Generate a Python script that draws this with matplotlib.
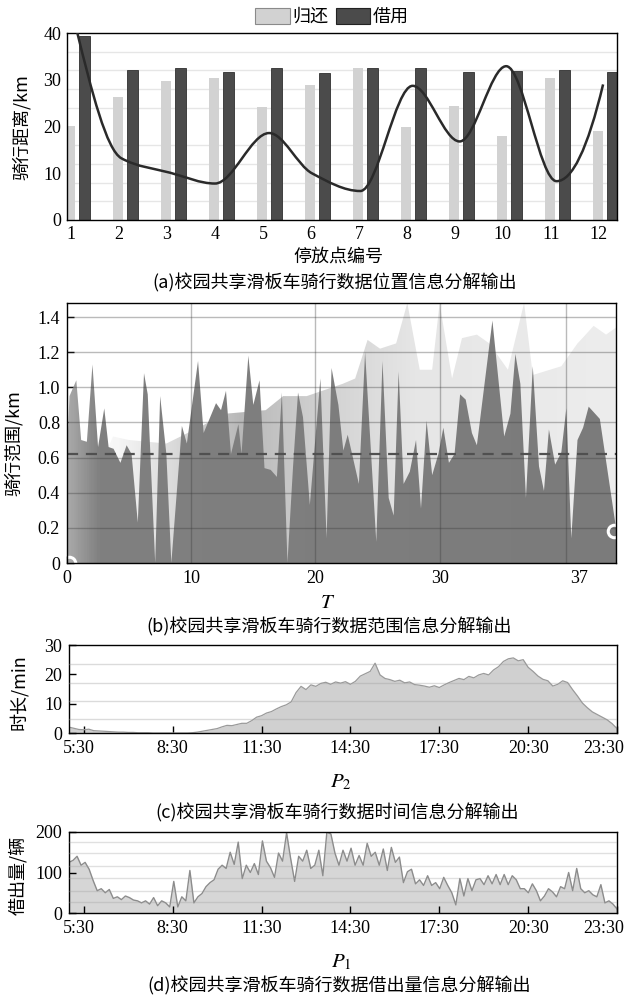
import matplotlib
matplotlib.use("Agg")
import matplotlib.pyplot as plt
import matplotlib.patches as pat
import matplotlib.transforms as mtrans
from matplotlib.path import Path
from matplotlib.colors import LinearSegmentedColormap
import numpy as np

plt.rcParams['font.family'] = ['Liberation Serif', 'DejaVu Serif']
plt.rcParams['mathtext.fontset'] = 'stix'
cjk = ['Noto Sans CJK SC', 'DejaVu Sans']

# (a) position info
stations = list(range(1, 13))
returned = [20.1, 26.4, 29.8, 30.3, 24.1, 28.8, 32.5, 19.8, 24.4, 18.0, 30.4, 19.1]
borrowed = [39.4, 32.0, 32.6, 31.6, 32.6, 31.5, 32.6, 32.6, 31.6, 31.9, 32.1, 31.6]
curve_x = [1.12, 2.05, 3.07, 4.0, 5.13, 6.02, 7.03, 8.12, 9.1, 10.07, 11.12, 12.09]
curve_y = [40.5, 13.2, 10.1, 7.8, 18.6, 10.0, 6.2, 28.7, 16.8, 32.9, 8.3, 29.0]

# (b) range info
b_t = [0, 0.2, 0.75, 1.14, 1.6, 2.05, 2.5, 3.0, 3.35, 3.75, 4.3, 4.8, 5.2, 5.7, 6.2, 6.5,
       7.1, 7.5, 8.0, 8.4, 9.25, 9.65, 10.55, 11.0, 12.0, 12.4, 12.8, 13.2, 13.8, 14.05,
       14.6, 15.0, 15.5, 15.9, 16.4, 16.9, 17.3, 17.75, 18.2, 18.6, 19.0, 19.55, 20.4,
       20.9, 21.3, 21.85, 22.25, 22.6, 23.5, 24.0, 24.9, 25.4, 25.9, 26.3, 26.7, 27.1,
       27.6, 28.1, 28.5, 28.95, 29.4, 29.9, 30.3, 30.75, 31.2, 31.65, 32.1, 32.6, 33.0,
       34.25, 35.2, 35.7, 36.1, 36.5, 36.95, 37.5, 38.0, 38.4, 38.8, 39.3, 39.8, 40.2,
       40.6, 41.1, 41.55, 42.0, 42.9, 44.2]
b_v = [0.62, 0.95, 1.04, 0.70, 0.69, 1.13, 0.66, 0.88, 0.66, 0.65, 0.57, 0.67, 0.62, 0.23,
       1.08, 0.96, 0.0, 0.95, 0.62, 0.0, 0.78, 0.68, 1.15, 0.74, 0.91, 0.87, 0.98, 0.62,
       0.79, 0.62, 1.18, 0.90, 1.04, 0.54, 0.53, 0.49, 0.97, 0.0, 0.55, 0.97, 0.83, 0.33,
       1.05, 0.14, 1.11, 0.90, 0.64, 0.73, 0.45, 1.20, 0.12, 1.15, 0.37, 0.27, 1.09, 0.45,
       0.52, 0.70, 0.31, 0.81, 0.50, 0.62, 0.77, 0.57, 0.62, 0.96, 0.93, 0.74, 0.67, 1.38,
       0.72, 0.85, 1.19, 1.02, 0.37, 1.12, 0.55, 0.41, 0.76, 0.56, 0.63, 0.88, 0.14, 0.70,
       0.77, 0.89, 0.82, 0.20]
env_t = [0, 3.0, 3.7, 5.0, 8.0, 10.0, 12.8, 16.0, 17.4, 19.3, 22.2, 23.2, 24.2, 25.2, 26.5,
         27.4, 28.4, 29.4, 30.0, 31.0, 31.8, 33.0, 34.0, 35.5, 36.8, 37.5, 39.8, 41.1,
         41.5, 42.4, 43.4, 44.2]
env_v = [0.55, 0.6, 0.72, 0.7, 0.68, 0.75, 0.85, 0.87, 0.95, 0.95, 1.02, 1.05, 1.27, 1.22,
         1.25, 1.48, 1.1, 1.1, 1.48, 1.05, 1.28, 1.3, 1.25, 1.1, 1.48, 1.07, 1.12, 1.25,
         1.28, 1.35, 1.3, 1.34]
b_mean = 0.62
b_ticks = [0, 10, 20, 30, 41.2]
b_ticklabels = ['0', '10', '20', '30', '37']
b_vlines = [10, 20, 30, 40.2]
ring_t = [0.15, 44.0]
ring_v = [0.0, 0.18]

# (c) time info, 10 min samples 5:00-23:30
c_vals = [2.0, 1.6, 1.2, 1.1, 1.3, 0.8,
          0.7, 0.6, 0.5, 0.4, 0.3, 0.3,
          0.2, 0.2, 0.1, 0.1, 0.1, 0.0,
          0.0, 0.0, 0.0, 0.0, 0.0, 0.0,
          0.0, 0.1, 0.3, 0.6, 0.9, 1.2,
          1.5, 2.1, 2.6, 2.5, 2.9, 3.3,
          3.3, 4.2, 5.4, 5.9, 6.8, 7.3,
          8.2, 9.0, 9.6, 10.6, 13.8, 15.9,
          14.8, 16.4, 15.9, 16.9, 17.3, 16.6,
          17.4, 17.0, 17.5, 16.6, 17.6, 19.4,
          20.2, 21.0, 23.8, 19.8, 18.6, 18.2,
          17.6, 18.0, 17.1, 17.4, 16.5, 16.3,
          16.0, 15.6, 16.1, 15.5, 16.4, 17.2,
          17.9, 18.6, 18.2, 19.3, 18.8, 19.8,
          20.3, 19.8, 21.5, 22.6, 24.4, 25.3,
          25.6, 24.6, 25.0, 22.4, 21.0, 19.4,
          18.3, 17.8, 16.0, 16.6, 17.8, 17.2,
          14.8, 12.6, 10.2, 8.6, 7.2, 6.3,
          5.4, 4.5, 3.2, 1.5]
c_grid = [4.7, 11, 17.1, 23.4]

# (d) borrow count
d_vals = [125, 130, 140, 118, 125, 108, 80, 55, 60, 50, 58, 36, 40, 33, 42, 38, 32, 30,
          25, 30, 22, 38, 18, 30, 25, 15, 78, 15, 40, 30, 105, 25, 40, 48, 65, 75, 82,
          108, 118, 110, 150, 120, 175, 85, 118, 100, 122, 95, 178, 128, 112, 88, 148,
          128, 198, 135, 78, 140, 128, 155, 110, 118, 155, 92, 200, 195, 148, 118, 155,
          128, 160, 118, 142, 118, 172, 140, 150, 118, 158, 105, 162, 125, 138, 75, 102,
          108, 72, 82, 68, 92, 68, 75, 60, 88, 68, 50, 20, 85, 42, 85, 55, 82, 85, 70,
          92, 72, 95, 70, 95, 70, 92, 82, 60, 60, 50, 72, 55, 30, 42, 60, 52, 40, 65,
          60, 100, 55, 110, 60, 50, 55, 45, 40, 70, 25, 30, 22, 10]
d_grid = [26, 55, 86, 116, 147, 175]

time_ticks = [5.5, 8.5, 11.5, 14.5, 17.5, 20.5, 23.5]
time_labels = ['5:30', '8:30', '11:30', '14:30', '17:30', '20:30', '23:30']

W, H = 633, 1001
def fx(px):
    return px / W
def fy(py):
    return 1 - py / H
def box(l, t, r, b):
    return [fx(l), fy(b), (r - l) / W, (b - t) / H]

def pchip_slopes(x, y):
    x = np.asarray(x, float); y = np.asarray(y, float)
    h = np.diff(x); d = np.diff(y) / h
    m = np.zeros_like(y)
    for k in range(1, len(x) - 1):
        if d[k-1] * d[k] > 0:
            w1 = 2*h[k] + h[k-1]; w2 = h[k] + 2*h[k-1]
            m[k] = (w1 + w2) / (w1/d[k-1] + w2/d[k])
    def end(h0, h1, d0, d1):
        s = ((2*h0 + h1)*d0 - h0*d1) / (h0 + h1)
        if np.sign(s) != np.sign(d0):
            s = 0
        elif np.sign(d0) != np.sign(d1) and abs(s) > abs(3*d0):
            s = 3*d0
        return s
    m[0] = end(h[0], h[1], d[0], d[1])
    m[-1] = end(h[-1], h[-2], d[-1], d[-2])
    return m

def gradient_fill(ax, t, v, stops, xmax, ymax, z):
    verts = np.column_stack([np.r_[t[0], t, t[-1]], np.r_[0, v, 0]])
    poly = pat.Polygon(verts, closed=True, fc='none', ec='none', transform=ax.transData)
    ax.add_patch(poly)
    cmap = LinearSegmentedColormap.from_list('g', [(p / xmax, c) for p, c in stops])
    grad = np.linspace(0, 1, 600)[None, :]
    im = ax.imshow(grad, extent=[0, xmax, 0, ymax], aspect='auto', cmap=cmap,
                   origin='lower', zorder=z, interpolation='bilinear')
    im.set_clip_path(poly)

def nudge_edge_labels(ax, fig, left_px, right_px):
    labs = ax.get_xticklabels()
    for lab, dx in ((labs[0], left_px), (labs[-1], right_px)):
        lab.set_transform(lab.get_transform() +
                          mtrans.ScaledTranslation(dx / fig.dpi, 0, fig.dpi_scale_trans))

fig = plt.figure(figsize=(6.33, 10.01), dpi=100)
tick_fs = 13
lab_fs = 13

# ---------- (a)
ax = fig.add_axes(box(67, 33, 617, 220))
xs = np.array(stations)
ax.bar(xs - 0.02, returned, width=0.21, color='#d2d2d2', zorder=2)
ax.bar(xs + 0.28, borrowed, width=0.22, color='#4b4b4b', ec='#303030', lw=0.6, zorder=2)
m = pchip_slopes(curve_x, curve_y)
verts = [(curve_x[0], curve_y[0])]
codes = [Path.MOVETO]
for i in range(len(curve_x) - 1):
    h = curve_x[i+1] - curve_x[i]
    verts += [(curve_x[i] + h/3, curve_y[i] + m[i]*h/3),
              (curve_x[i+1] - h/3, curve_y[i+1] - m[i+1]*h/3),
              (curve_x[i+1], curve_y[i+1])]
    codes += [Path.CURVE4] * 3
ax.add_patch(pat.PathPatch(Path(verts, codes), fill=False, ec='#2a2a2a', lw=1.8, zorder=3))
ax.set_xlim(0.916, 12.38)
ax.set_ylim(0, 40)
ax.set_xticks(stations)
ax.set_yticks([0, 10, 20, 30, 40])
ax.set_yticks(np.arange(4, 40, 4), minor=True)
ax.grid(which='minor', axis='y', color='#e6e6e6', lw=1.0, zorder=0)
ax.tick_params(which='both', length=0, labelsize=tick_fs, pad=4)
for s in ax.spines.values():
    s.set_linewidth(1.0)
fig.legend(handles=[pat.Patch(fc='#d2d2d2', ec='#8a8a8a', lw=0.8, label='归还'),
                    pat.Patch(fc='#4b4b4b', ec='#222222', lw=0.8, label='借用')],
           loc='center', bbox_to_anchor=(fx(332), fy(17)), ncol=2, frameon=False,
           prop={'family': cjk, 'size': lab_fs}, handlelength=1.9, handleheight=1.0,
           handletextpad=0.15, columnspacing=0.4, borderpad=0)
fig.text(fx(22), fy(127), '骑行距离/km', rotation=90, ha='center', va='center',
         family=cjk, fontsize=lab_fs)
fig.text(fx(338), fy(257), '停放点编号', ha='center', va='center', family=cjk, fontsize=lab_fs)
fig.text(fx(335), fy(283), '(a)校园共享滑板车骑行数据位置信息分解输出', ha='center',
         va='center', family=cjk, fontsize=lab_fs)

# ---------- (b)
ax = fig.add_axes(box(67, 303, 616, 563))
xmax, ymax = 44.2, 1.48
gradient_fill(ax, env_t, env_v, [(0, '#ffffff'), (4, '#f6f6f6'), (14, '#b8b8b8'),
                                 (20, '#cfcfcf'), (28, '#e6e6e6'), (44.2, '#ededed')],
              xmax, ymax, 1)
gradient_fill(ax, b_t, b_v, [(0, '#a9a9a9'), (2.5, '#808080'), (44.2, '#7b7b7b')],
              xmax, ymax, 2)
for yv in np.arange(0.2, 1.41, 0.2):
    ax.axhline(yv, color='#3a3a3a', alpha=0.35, lw=1.0, zorder=3)
for xv in b_vlines:
    ax.axvline(xv, color='#3a3a3a', alpha=0.35, lw=1.0, zorder=3)
ax.axhline(b_mean, color='#505050', lw=1.6, ls=(0, (5, 3.5)), zorder=4)
ax.plot(ring_t, ring_v, 'o', mfc='none', mec='white', ms=9, mew=2.2, zorder=5, clip_on=True)
ax.set_xlim(0, xmax)
ax.set_ylim(0, ymax)
ax.set_xticks(b_ticks)
ax.set_xticklabels(b_ticklabels)
ax.set_yticks([0, 0.2, 0.4, 0.6, 0.8, 1.0, 1.2, 1.4])
ax.set_yticklabels(['0', '0.2', '0.4', '0.6', '0.8', '1.0', '1.2', '1.4'])
ax.tick_params(direction='in', length=5, width=1, labelsize=tick_fs, pad=5)
for s in ax.spines.values():
    s.set_linewidth(1.0)
    s.set_zorder(6)
fig.text(fx(14), fy(443), '骑行范围/km', rotation=90, ha='center', va='center',
         family=cjk, fontsize=lab_fs)
fig.text(fx(328), fy(603), '$T$', ha='center', va='center', fontsize=15)
fig.text(fx(329), fy(627), '(b)校园共享滑板车骑行数据范围信息分解输出', ha='center',
         va='center', family=cjk, fontsize=lab_fs)

# ---------- (c)
ax = fig.add_axes(box(69, 645, 617, 733))
ct = np.linspace(5.0, 23.5, len(c_vals))
ax.fill_between(ct, 0, c_vals, color='#d0d0d0', zorder=1, lw=0)
ax.plot(ct, c_vals, color='#9a9a9a', lw=0.9, zorder=2)
for yv in c_grid:
    ax.axhline(yv, color='#9a9a9a', alpha=0.35, lw=1.0, zorder=3)
ax.set_xlim(5.0, 23.5)
ax.set_ylim(0, 30)
ax.set_xticks(time_ticks)
ax.set_xticklabels(time_labels)
ax.set_yticks([0, 10, 20, 30])
ax.tick_params(direction='in', length=5, width=1, labelsize=tick_fs, pad=5)
nudge_edge_labels(ax, fig, -5, -13)
for s in ax.spines.values():
    s.set_linewidth(1.0)
fig.text(fx(19), fy(692), '时长/min', rotation=90, ha='center', va='center',
         family=cjk, fontsize=lab_fs)
fig.text(fx(341), fy(782), '$P_2$', ha='center', va='center', fontsize=15)
fig.text(fx(337), fy(813), '(c)校园共享滑板车骑行数据时间信息分解输出', ha='center',
         va='center', family=cjk, fontsize=lab_fs)

# ---------- (d)
ax = fig.add_axes(box(69, 832, 617, 913))
dt = np.linspace(5.0, 23.5, len(d_vals))
ax.fill_between(dt, 0, d_vals, color='#d6d6d6', zorder=1, lw=0)
ax.plot(dt, d_vals, color='#8c8c8c', lw=1.0, zorder=2)
for yv in d_grid:
    ax.axhline(yv, color='#9a9a9a', alpha=0.3, lw=1.0, zorder=3)
ax.set_xlim(5.0, 23.5)
ax.set_ylim(0, 200)
ax.set_xticks(time_ticks)
ax.set_xticklabels(time_labels)
ax.set_yticks([0, 100, 200])
ax.tick_params(direction='in', length=5, width=1, labelsize=tick_fs, pad=5)
nudge_edge_labels(ax, fig, -5, -13)
for s in ax.spines.values():
    s.set_linewidth(1.0)
fig.text(fx(18), fy(875), '借出量/辆', rotation=90, ha='center', va='center',
         family=cjk, fontsize=lab_fs)
fig.text(fx(341), fy(962), '$P_1$', ha='center', va='center', fontsize=15)
fig.text(fx(339), fy(986), '(d)校园共享滑板车骑行数据借出量信息分解输出', ha='center',
         va='center', family=cjk, fontsize=lab_fs)

fig.savefig('out.png', dpi=100, facecolor='white')
